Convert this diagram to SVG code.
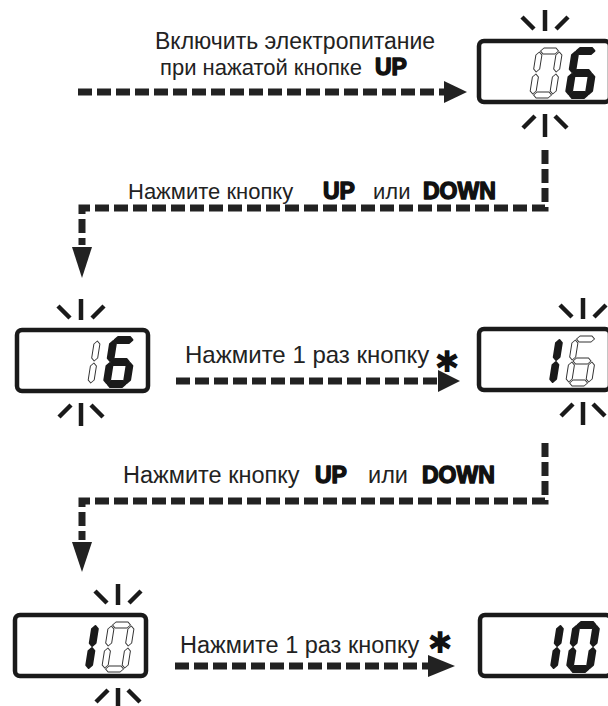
<svg xmlns="http://www.w3.org/2000/svg" xmlns:xlink="http://www.w3.org/1999/xlink" width="608" height="706" viewBox="0 0 608 706">
<style>
.lbl{font-family:"Liberation Sans",Arial,sans-serif;font-size:22px;fill:#222}
.bw{font-family:"Liberation Sans",Arial,sans-serif;font-size:23px;font-weight:bold;fill:#111;stroke:#111;stroke-width:1.4;stroke-linejoin:round}
.ast{font-family:"DejaVu Sans",sans-serif;font-size:30px;font-weight:bold;fill:#111;text-anchor:middle}
.box{fill:#fff;stroke:#1a1a1a;stroke-width:4.5}
.ray{stroke:#1a1a1a;stroke-width:4.5;fill:none}
.on{fill:#1a1a1a;stroke:#1a1a1a;stroke-width:1.8;stroke-linejoin:round}
.off{fill:#fff;stroke:#333;stroke-width:1;stroke-linejoin:round}
.dash{fill:none;stroke:#222;stroke-width:7;stroke-dasharray:14 5}
.head{fill:#222}
</style>
<defs>
<polygon id="sa" points="4,3 7,0 19,0 22,3 19,6 7,6"/>
<polygon id="sg" points="4,25 7,22 19,22 22,25 19,28 7,28"/>
<polygon id="sd" points="4,47 7,44 19,44 22,47 19,50 7,50"/>
<polygon id="sf" points="3,4 6,7 6,21 3,24 0,21 0,7"/>
<polygon id="sb" points="23,4 26,7 26,21 23,24 20,21 20,7"/>
<polygon id="se" points="3,26 6,29 6,43 3,46 0,43 0,29"/>
<polygon id="sc" points="23,26 26,29 26,43 23,46 20,43 20,29"/>
<g id="d0"><use xlink:href="#sa"/><use xlink:href="#sb"/><use xlink:href="#sc"/><use xlink:href="#sd"/><use xlink:href="#se"/><use xlink:href="#sf"/></g>
<g id="d6"><use xlink:href="#sa"/><use xlink:href="#sf"/><use xlink:href="#sg"/><use xlink:href="#se"/><use xlink:href="#sd"/><use xlink:href="#sc"/></g>
<g id="d1"><use xlink:href="#sb"/><use xlink:href="#sc"/></g>
<g id="rays" class="ray">
<line x1="0" y1="-29" x2="0" y2="-8"/>
<line x1="-23" y1="-22" x2="-11" y2="-10"/>
<line x1="23" y1="-22" x2="11" y2="-10"/>
<line x1="0" y1="75" x2="0" y2="98"/>
<line x1="-22" y1="89" x2="-10" y2="77"/>
<line x1="22" y1="89" x2="10" y2="77"/>
</g>
</defs>
<rect width="608" height="706" fill="#fff"/>

<g id="connectors">
<line class="dash" x1="78" y1="92" x2="446" y2="92"/>
<polygon class="head" points="444,81 467,92 444,103"/>
<path class="dash" d="M545,150 V208 H82 V245"/>
<polygon class="head" points="72,247 92,247 82,278"/>
<line class="dash" x1="176" y1="381" x2="440" y2="381"/>
<polygon class="head" points="438,370 460,381 438,392"/>
<path class="dash" d="M545,443 V501 H82 V540"/>
<polygon class="head" points="72,542 92,542 82,572"/>
<line class="dash" x1="175" y1="666" x2="430" y2="666"/>
<polygon class="head" points="428,655 455,666 428,677"/>
</g>

<g id="labels">
<text class="lbl" x="155" y="49" style="font-size:23px">Включить электропитание</text>
<text class="lbl" x="160" y="75">при нажатой кнопке</text>
<text class="bw" x="375" y="75">UP</text>
<text class="lbl" x="128" y="199">Нажмите кнопку</text>
<text class="bw" x="323" y="199">UP</text>
<text class="lbl" x="373" y="199">или</text>
<text class="bw" x="423" y="199">DOWN</text>
<text class="lbl" x="185" y="363" style="font-size:24px">Нажмите 1 раз кнопку</text>
<text class="ast" x="447" y="372">✱</text>
<text class="lbl" x="123" y="483" style="font-size:23.5px">Нажмите кнопку</text>
<text class="bw" x="315" y="483">UP</text>
<text class="lbl" x="368" y="483" style="font-size:23.5px">или</text>
<text class="bw" x="422" y="483">DOWN</text>
<text class="lbl" x="180" y="653" style="font-size:23.5px">Нажмите 1 раз кнопку</text>
<text class="ast" x="440" y="653">✱</text>
</g>

<g id="display1">
<use xlink:href="#rays" transform="translate(545,39)"/>
<rect class="box" x="479" y="41" width="131" height="61" rx="5"/>
<use class="off" xlink:href="#d0" transform="translate(537,48) skewX(-9)"/>
<use class="on" xlink:href="#d6" transform="translate(573,48) skewX(-9)"/>
</g>

<g id="display2">
<use xlink:href="#rays" transform="translate(81,328)"/>
<rect class="box" x="17" y="330" width="131" height="61" rx="5"/>
<use class="off" xlink:href="#d1" transform="translate(75,337) skewX(-9)"/>
<use class="on" xlink:href="#d6" transform="translate(111,337) skewX(-9)"/>
</g>

<g id="display3">
<use xlink:href="#rays" transform="translate(583,327)"/>
<rect class="box" x="479" y="329" width="131" height="61" rx="5"/>
<use class="on" xlink:href="#d1" transform="translate(537,336) skewX(-9)"/>
<use class="off" xlink:href="#d6" transform="translate(573,336) skewX(-9)"/>
</g>

<g id="display4">
<use xlink:href="#rays" transform="translate(118,613)"/>
<rect class="box" x="15" y="615" width="131" height="61" rx="5"/>
<use class="on" xlink:href="#d1" transform="translate(73,622) skewX(-9)"/>
<use class="off" xlink:href="#d0" transform="translate(109,622) skewX(-9)"/>
</g>

<g id="display5">
<rect class="box" x="480" y="615" width="131" height="61" rx="5"/>
<use class="on" xlink:href="#d1" transform="translate(538,622) skewX(-9)"/>
<use class="on" xlink:href="#d0" transform="translate(574,622) skewX(-9)"/>
</g>
</svg>
